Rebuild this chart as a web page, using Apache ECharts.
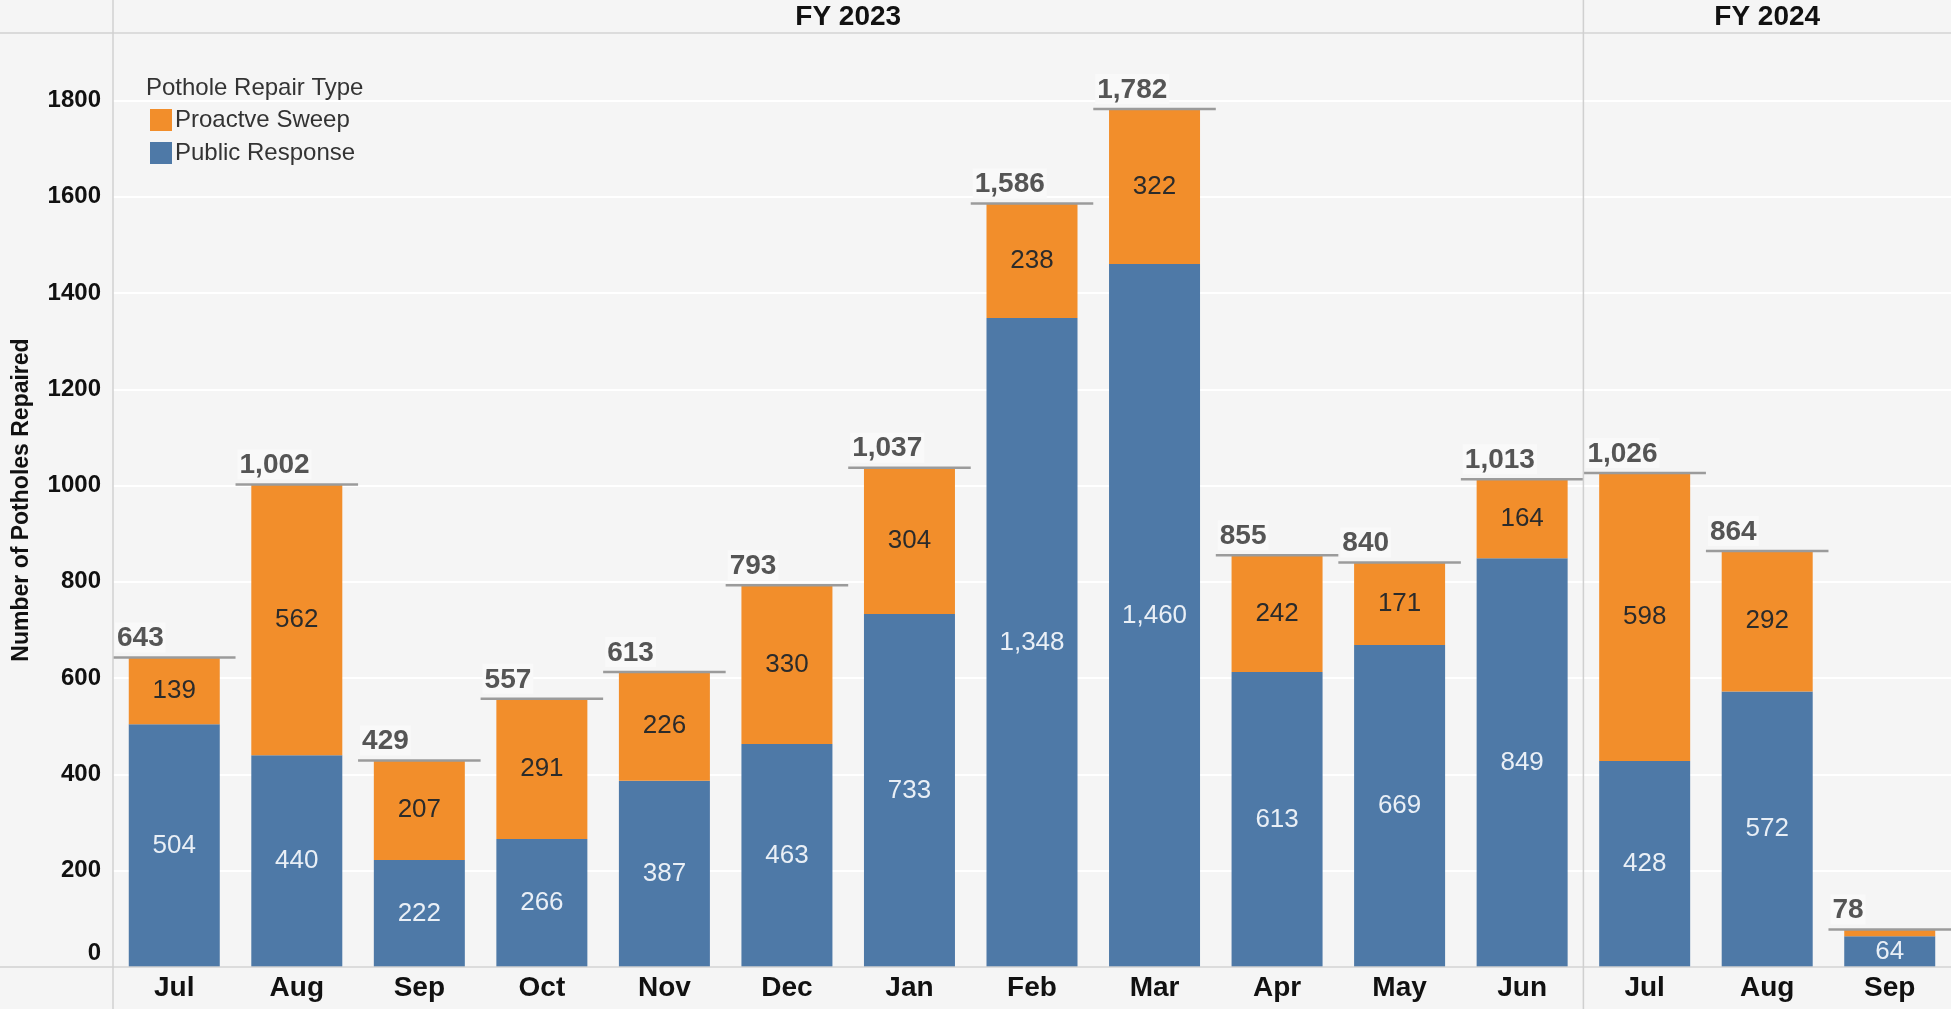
<!DOCTYPE html>
<html>
<head>
<meta charset="utf-8">
<title>Potholes Repaired</title>
<script src="https://cdn.jsdelivr.net/npm/echarts@6/dist/echarts.min.js"></script>
<style>
  html, body { margin: 0; padding: 0; background: #f5f5f5; }
  #chart { width: 1951px; height: 1009px; }
</style>
</head>
<body>
<div id="chart"></div>
<script>
  // months, FY 2023 (Jul..Jun) then FY 2024 (Jul..Sep)
  var months = ['Jul', 'Aug', 'Sep', 'Oct', 'Nov', 'Dec', 'Jan', 'Feb', 'Mar', 'Apr', 'May', 'Jun', 'Jul', 'Aug', 'Sep'];
  var fiscalYears = ['FY 2023', 'FY 2024'];
  var fyFirstIndex = [0, 12];
  var publicResponse = [504, 440, 222, 266, 387, 463, 733, 1348, 1460, 613, 669, 849, 428, 572, 64];
  var proactiveSweep = [139, 562, 207, 291, 226, 330, 304, 238, 322, 242, 171, 164, 598, 292, 14];
  var totals = [643, 1002, 429, 557, 613, 793, 1037, 1586, 1782, 855, 840, 1013, 1026, 864, 78];
  var yTicks = [0, 200, 400, 600, 800, 1000, 1200, 1400, 1600, 1800];

  var FONT = '"Liberation Sans", Arial, sans-serif';
  var chart = echarts.init(document.getElementById('chart'));

  function fmt(v) {
    return Number(v).toLocaleString('en-US');
  }

  chart.setOption({
    backgroundColor: '#f5f5f5',
    animation: false,
    textStyle: { fontFamily: FONT },
    grid: { left: 113, right: 0, top: 33, bottom: 42 },
    title: {
      text: 'Pothole Repair Type',
      left: 141,
      top: 71,
      textStyle: { fontFamily: FONT, fontSize: 24, fontWeight: 'normal', color: '#333' }
    },
    legend: {
      orient: 'vertical',
      left: 145,
      top: 103,
      icon: 'rect',
      itemWidth: 22,
      itemHeight: 22,
      itemGap: 9,
      data: ['Proactve Sweep', 'Public Response'],
      textStyle: { fontFamily: FONT, fontSize: 24, color: '#333', lineHeight: 22, padding: [0, 0, 0, -2] }
    },
    xAxis: {
      type: 'category',
      data: months,
      axisLine: { show: false },
      axisTick: { show: false },
      axisLabel: { fontFamily: FONT, fontSize: 28, fontWeight: 'bold', color: '#111', margin: 7 }
    },
    yAxis: {
      type: 'value',
      min: 0,
      max: 1940,
      interval: 200,
      name: 'Number of Potholes Repaired',
      nameLocation: 'middle',
      nameGap: 80,
      nameTextStyle: { fontFamily: FONT, fontSize: 23, fontWeight: 'bold', color: '#111' },
      axisLine: { show: false },
      axisTick: { show: false },
      splitLine: { lineStyle: { color: '#ffffff', width: 2 } },
      axisLabel: {
        fontFamily: FONT, fontSize: 24, fontWeight: 'bold', color: '#111', margin: 12,
        showMaxLabel: false,
        formatter: function (v) {
          if (yTicks.indexOf(v) < 0) return '';
          return v === 0 ? '{z|0}' : String(v);
        },
        rich: { z: { fontFamily: FONT, fontSize: 24, fontWeight: 'bold', color: '#111', padding: [0, 0, 28, 0] } }
      }
    },
    series: [
      {
        name: 'Public Response',
        type: 'bar',
        stack: 'repairs',
        barWidth: 91,
        data: publicResponse,
        itemStyle: { color: '#4e79a7' },
        label: {
          show: true,
          position: 'inside',
          fontFamily: FONT,
          fontSize: 26,
          color: '#e9eff6',
          formatter: function (p) { return fmt(p.value); }
        }
      },
      {
        name: 'Proactve Sweep',
        type: 'bar',
        stack: 'repairs',
        barWidth: 91,
        data: proactiveSweep,
        itemStyle: { color: '#f28e2b' },
        label: {
          show: true,
          position: 'inside',
          fontFamily: FONT,
          fontSize: 26,
          color: '#2b2b2b',
          formatter: function (p) { return p.value < 40 ? '' : fmt(p.value); }
        }
      },
      {
        name: 'Total',
        type: 'custom',
        z: 5,
        clip: false,
        data: totals.map(function (t, i) { return [i, t]; }),
        renderItem: function (params, api) {
          var p = api.coord([api.value(0), api.value(1)]);
          var w = api.size([1, 0])[0];
          return {
            type: 'group',
            children: [
              {
                type: 'line',
                shape: { x1: p[0] - w / 2, y1: p[1], x2: p[0] + w / 2, y2: p[1] },
                style: { stroke: '#9b9b9b', lineWidth: 2.5 }
              },
              {
                type: 'text',
                x: p[0] - w / 2 + 2,
                y: p[1] - 5,
                style: {
                  text: fmt(api.value(1)),
                  fill: '#555',
                  font: 'bold 28px ' + FONT,
                  align: 'left',
                  verticalAlign: 'bottom',
                  backgroundColor: '#f9f9f9',
                  padding: [2, 2, 0, 2]
                }
              }
            ]
          };
        }
      }
    ]
  });

  // frame, fiscal year header and divider placed from the category scale
  var leftX = chart.convertToPixel({ xAxisIndex: 0 }, 0);
  var catW = chart.convertToPixel({ xAxisIndex: 0 }, 1) - leftX;
  var plotLeft = leftX - catW / 2;
  var topY = chart.convertToPixel({ yAxisIndex: 0 }, 1940);
  var zeroY = chart.convertToPixel({ yAxisIndex: 0 }, 0);
  var W = chart.getWidth(), H = chart.getHeight();

  var graphics = [
    { type: 'line', shape: { x1: 0, y1: topY, x2: W, y2: topY }, style: { stroke: '#d0d0d0', lineWidth: 1.5 }, z: 10 },
    { type: 'line', shape: { x1: 0, y1: zeroY, x2: W, y2: zeroY }, style: { stroke: '#d0d0d0', lineWidth: 1.5 }, z: 10 },
    { type: 'line', shape: { x1: plotLeft, y1: 0, x2: plotLeft, y2: H }, style: { stroke: '#d0d0d0', lineWidth: 1.5 }, z: 10 }
  ];
  fiscalYears.forEach(function (fy, k) {
    var first = fyFirstIndex[k];
    var last = k + 1 < fyFirstIndex.length ? fyFirstIndex[k + 1] - 1 : months.length - 1;
    var x0 = chart.convertToPixel({ xAxisIndex: 0 }, first) - catW / 2;
    var x1 = chart.convertToPixel({ xAxisIndex: 0 }, last) + catW / 2;
    graphics.push({
      type: 'text',
      x: (x0 + x1) / 2,
      y: topY / 2 + 1,
      style: { text: fy, font: 'bold 28px ' + FONT, fill: '#111', align: 'center', verticalAlign: 'middle' },
      z: 10
    });
    if (k > 0) {
      graphics.push({ type: 'line', shape: { x1: x0, y1: 0, x2: x0, y2: H }, style: { stroke: '#d0d0d0', lineWidth: 1.5 }, z: 10 });
    }
  });
  chart.setOption({ graphic: graphics });
</script>
</body>
</html>
